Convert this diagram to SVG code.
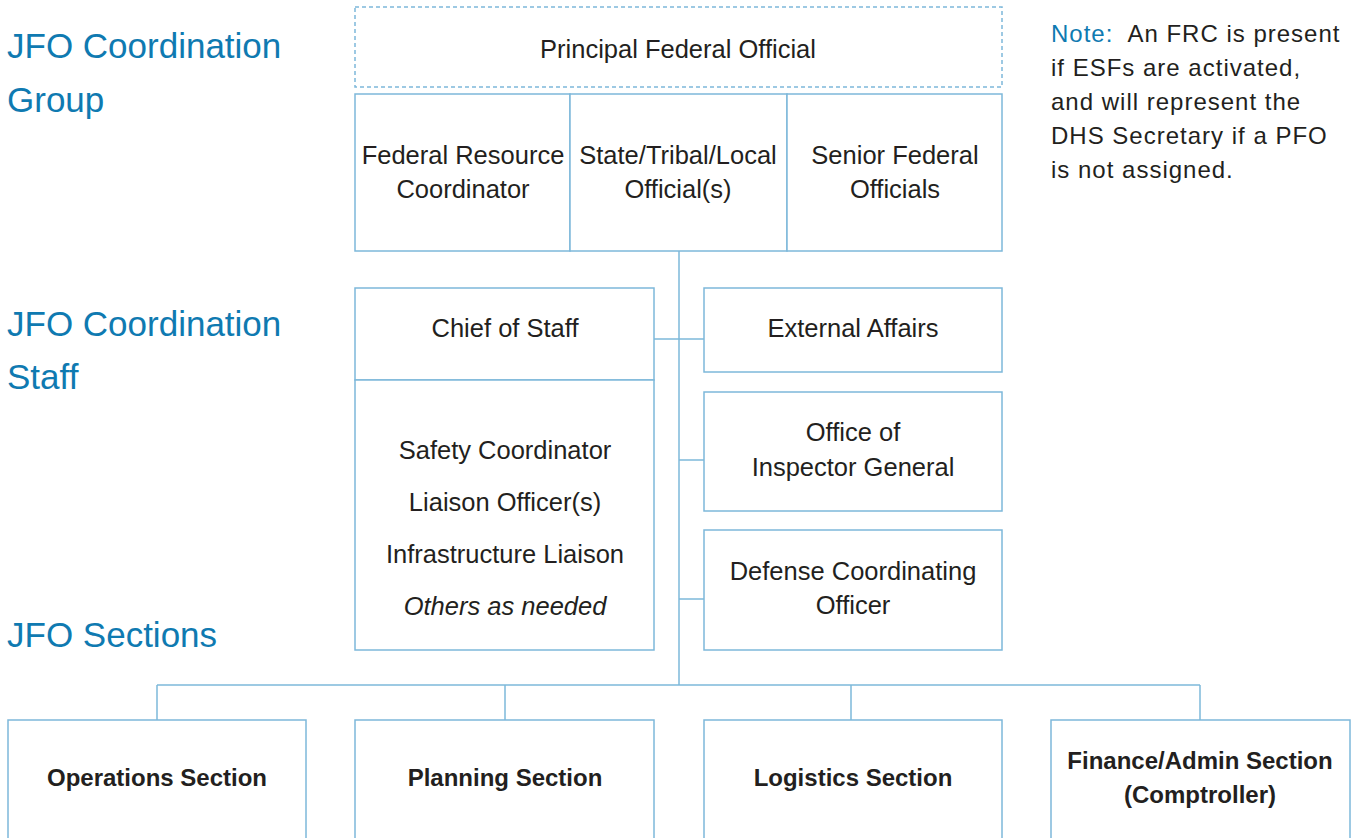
<svg xmlns="http://www.w3.org/2000/svg" width="1358" height="838" viewBox="0 0 1358 838">
<style>
.box{fill:#fff;stroke:#7db8da;stroke-width:1.5}
.dash{fill:#fff;stroke:#7db8da;stroke-width:1.5;stroke-dasharray:4 3}
.ln{fill:none;stroke:#7db8da;stroke-width:1.5}
.t{font-family:"Liberation Sans",Arial,sans-serif;font-size:25.5px;fill:#231f20;text-anchor:middle}
.b{font-weight:bold;font-size:24px}
.h{font-family:"Liberation Sans",Arial,sans-serif;font-size:35px;fill:#0f7ab1}
.n{font-family:"Liberation Sans",Arial,sans-serif;font-size:24px;letter-spacing:1px;fill:#231f20}
</style>
<rect width="1358" height="838" fill="#fff"/>
<g id="headings">
<text class="h" x="7" y="58">JFO Coordination</text>
<text class="h" x="7" y="112">Group</text>
<text class="h" x="7" y="336">JFO Coordination</text>
<text class="h" x="7" y="389">Staff</text>
<text class="h" x="7" y="647">JFO Sections</text>
</g>
<g id="note">
<text class="n" x="1051" y="42"><tspan fill="#0f7ab1">Note:</tspan>&#160; An FRC is present</text>
<text class="n" x="1051" y="76">if ESFs are activated,</text>
<text class="n" x="1051" y="110">and will represent the</text>
<text class="n" x="1051" y="144">DHS Secretary if a PFO</text>
<text class="n" x="1051" y="178">is not assigned.</text>
</g>
<g id="connectors">
<line class="ln" x1="679" y1="251" x2="679" y2="685"/>
<line class="ln" x1="654" y1="339" x2="704" y2="339"/>
<line class="ln" x1="679" y1="460" x2="704" y2="460"/>
<line class="ln" x1="679" y1="599" x2="704" y2="599"/>
<line class="ln" x1="157" y1="685" x2="1200" y2="685"/>
<line class="ln" x1="157" y1="685" x2="157" y2="720"/>
<line class="ln" x1="505" y1="685" x2="505" y2="720"/>
<line class="ln" x1="851" y1="685" x2="851" y2="720"/>
<line class="ln" x1="1200" y1="685" x2="1200" y2="720"/>
</g>
<g id="pfo">
<rect class="dash" x="355" y="7" width="647" height="80"/>
<text class="t" x="678" y="58">Principal Federal Official</text>
</g>
<g id="frc">
<rect class="box" x="355" y="94" width="215" height="157"/>
<text class="t" x="463" y="164">Federal Resource</text>
<text class="t" x="463" y="198">Coordinator</text>
</g>
<g id="stl">
<rect class="box" x="570" y="94" width="217" height="157"/>
<text class="t" x="678" y="164">State/Tribal/Local</text>
<text class="t" x="678" y="198">Official(s)</text>
</g>
<g id="sfo">
<rect class="box" x="787" y="94" width="215" height="157"/>
<text class="t" x="895" y="164">Senior Federal</text>
<text class="t" x="895" y="198">Officials</text>
</g>
<g id="chief">
<rect class="box" x="355" y="288" width="299" height="92"/>
<text class="t" x="505" y="337">Chief of Staff</text>
</g>
<g id="staff">
<rect class="box" x="355" y="380" width="299" height="270"/>
<text class="t" x="505" y="459">Safety Coordinator</text>
<text class="t" x="505" y="511">Liaison Officer(s)</text>
<text class="t" x="505" y="563">Infrastructure Liaison</text>
<text class="t" x="505" y="615" font-style="italic">Others as needed</text>
</g>
<g id="external">
<rect class="box" x="704" y="288" width="298" height="84"/>
<text class="t" x="853" y="337">External Affairs</text>
</g>
<g id="oig">
<rect class="box" x="704" y="392" width="298" height="119"/>
<text class="t" x="853" y="441">Office of</text>
<text class="t" x="853" y="476">Inspector General</text>
</g>
<g id="dco">
<rect class="box" x="704" y="530" width="298" height="120"/>
<text class="t" x="853" y="580">Defense Coordinating</text>
<text class="t" x="853" y="614">Officer</text>
</g>
<g id="ops">
<rect class="box" x="8" y="720" width="298" height="130"/>
<text class="t b" x="157" y="786">Operations Section</text>
</g>
<g id="plan">
<rect class="box" x="355" y="720" width="299" height="130"/>
<text class="t b" x="505" y="786">Planning Section</text>
</g>
<g id="log">
<rect class="box" x="704" y="720" width="298" height="130"/>
<text class="t b" x="853" y="786">Logistics Section</text>
</g>
<g id="fin">
<rect class="box" x="1051" y="720" width="299" height="130"/>
<text class="t b" x="1200" y="769">Finance/Admin Section</text>
<text class="t b" x="1200" y="803">(Comptroller)</text>
</g>
</svg>
